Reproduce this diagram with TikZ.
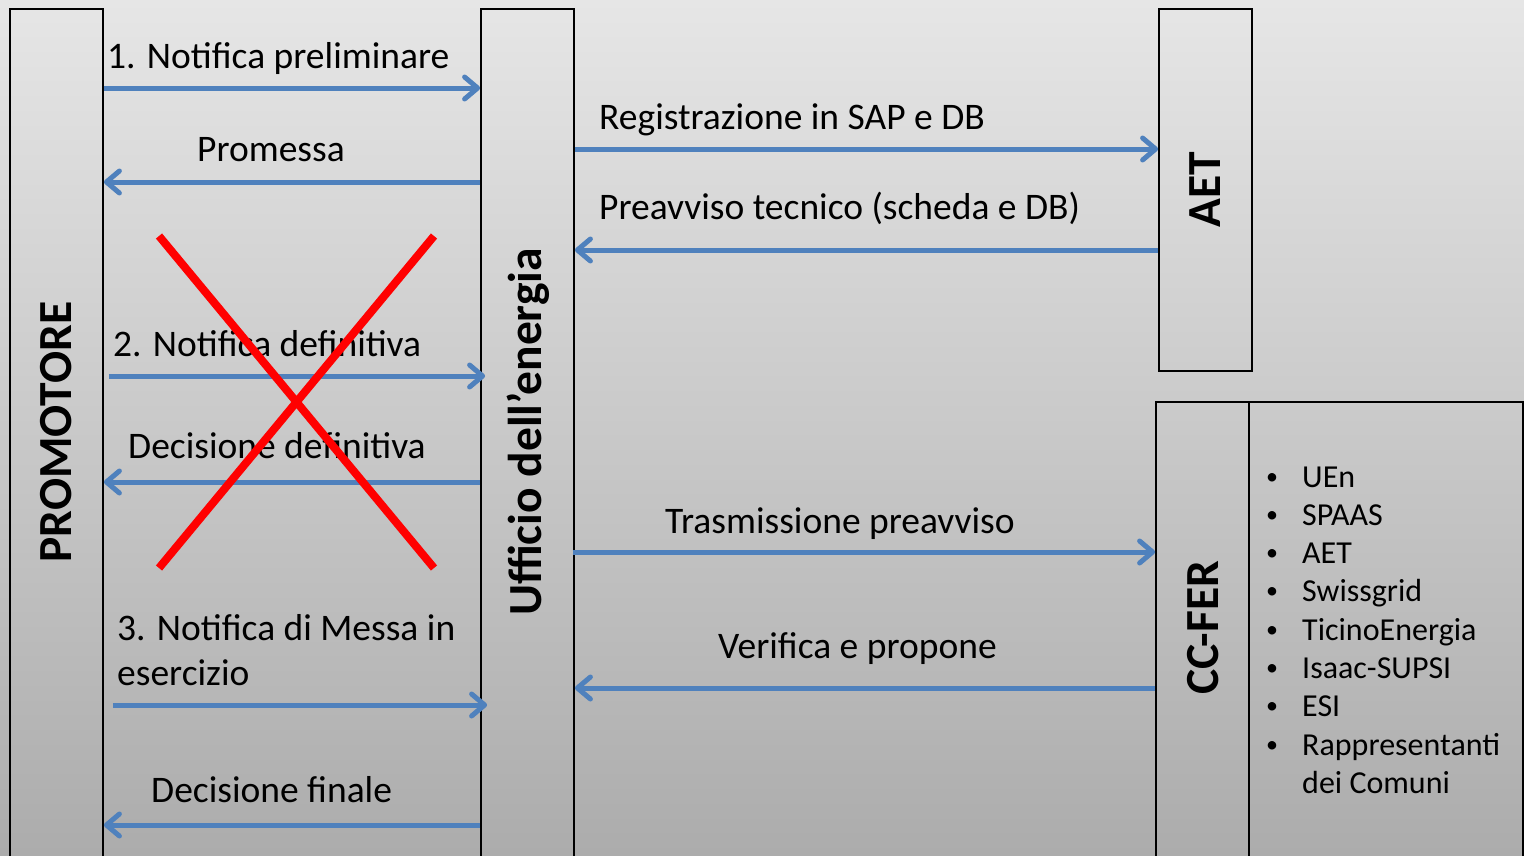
\documentclass[tikz,border=0pt]{standalone}
\usepackage{fontspec}
\setmainfont{Carlito}
\usetikzlibrary{arrows.meta,calc}
\definecolor{arrblue}{RGB}{79,129,189}
\definecolor{bgtop}{RGB}{230,230,230}
\definecolor{bgbot}{RGB}{172,172,172}
\newcommand{\listbullet}{\makebox[24pt]{\fontsize{24}{24}\selectfont\raisebox{3pt}{•}}}
\begin{document}
\begin{tikzpicture}[x=1pt,y=-1pt,
  lane/.style={draw=black, line width=1.8pt, minimum width=93pt, inner sep=0pt},
  lbl/.style={font=\fontsize{37.5}{45}\selectfont, inner sep=0pt, anchor=base west},
  hdr/.style={font=\bfseries\fontsize{47.5}{57}\selectfont, rotate=90, inner sep=0pt},
  msg/.style={draw=arrblue, line width=5pt, -{Straight Barb[length=13pt, width=22pt, round]}},
  cross/.style={draw=red, line width=8pt},
  listtxt/.style={font=\fontsize{32}{38.3}\selectfont, inner sep=0pt, anchor=base west}]
\useasboundingbox (0,0) rectangle (1524,855);
\clip (0,0) rectangle (1524,855);
\shade[top color=bgtop, bottom color=bgbot] (0,0) rectangle (1524,855);

% lanes
\node[lane, minimum height=852pt] (prom) at (56.5,435) {};
\node[lane, minimum height=852pt] (uff) at (527.5,435) {};
\node[lane, minimum height=362pt] (aet) at (1205.5,190) {};
\node[lane, minimum height=458pt] (cc) at (1202.5,631) {};
\node[lane, minimum width=274pt, minimum height=458pt] (members) at (1386,631) {};

% lane titles
\node[hdr] (tprom) at (56,432) {PROMOTORE};
\node[hdr] (tuff) at (528,432) {Ufficio dell’energia};
\node[hdr] (taet) at (1205,190) {AET};
\node[hdr] (tcc) at (1203,628) {CC-FER};

% y levels
\coordinate (y1) at (0,88);
\coordinate (y2) at (0,182);
\coordinate (y3) at (0,376);
\coordinate (y4) at (0,482);
\coordinate (y5) at (0,705);
\coordinate (y6) at (0,825);
\coordinate (y7) at (0,149);
\coordinate (y8) at (0,250);
\coordinate (y9) at (0,552);
\coordinate (y10) at (0,688);

% messages promotore <-> ufficio
\draw[msg] (prom.east |- y1) -- (uff.west |- y1);
\draw[msg] (uff.west |- y2) -- (prom.east |- y2);
\draw[msg] ($(prom.east |- y3)+(5,0)$) -- ($(uff.west |- y3)+(5,0)$);
\draw[msg] (uff.west |- y4) -- (prom.east |- y4);
\draw[msg] ($(prom.east |- y5)+(9,0)$) -- ($(uff.west |- y5)+(7,0)$);
\draw[msg] (uff.west |- y6) -- (prom.east |- y6);

% messages ufficio <-> AET / CC-FER
\draw[msg] (uff.east |- y7) -- (aet.west |- y7);
\draw[msg] (aet.west |- y8) -- (uff.east |- y8);
\draw[msg] ($(uff.east |- y9)+(-2,0)$) -- (cc.west |- y9);
\draw[msg] (cc.west |- y10) -- (uff.east |- y10);

% labels
\node[lbl] (l1) at (107,68) {1. Notifica preliminare};
\node[lbl] (l2) at (197,161) {Promessa};
\node[lbl] (l3) at (113,356) {2. Notifica definitiva};
\node[lbl] (l4) at (128,458) {Decisione definitiva};
\node[lbl] (l5) at (117,640) {3. Notifica di Messa in};
\node[lbl] (l5b) at (117,685) {esercizio};
\node[lbl] (l6) at (151,802) {Decisione finale};
\node[lbl] (l7) at (599,129) {Registrazione in SAP e DB};
\node[lbl] (l8) at (599,219) {Preavviso tecnico (scheda e DB)};
\node[lbl] (l9) at (665,533) {Trasmissione preavviso};
\node[lbl] (l10) at (718,658) {Verifica e propone};

% red cross
\coordinate (xa) at (159,236);
\coordinate (xb) at (434,568);
\coordinate (xc) at (434,236);
\coordinate (xd) at (159,568);
\draw[cross] (xa) -- (xb);
\draw[cross] (xc) -- (xd);

% member list
\node[listtxt] (list) at (1260,487) {\begin{tabular}[t]{@{}l@{\hspace{18pt}}l@{}}
\listbullet & UEn\\
\listbullet & SPAAS\\
\listbullet & AET\\
\listbullet & Swissgrid\\
\listbullet & TicinoEnergia\\
\listbullet & Isaac-SUPSI\\
\listbullet & ESI\\
\listbullet & Rappresentanti\\
 & dei Comuni
\end{tabular}};
\end{tikzpicture}
\end{document}
